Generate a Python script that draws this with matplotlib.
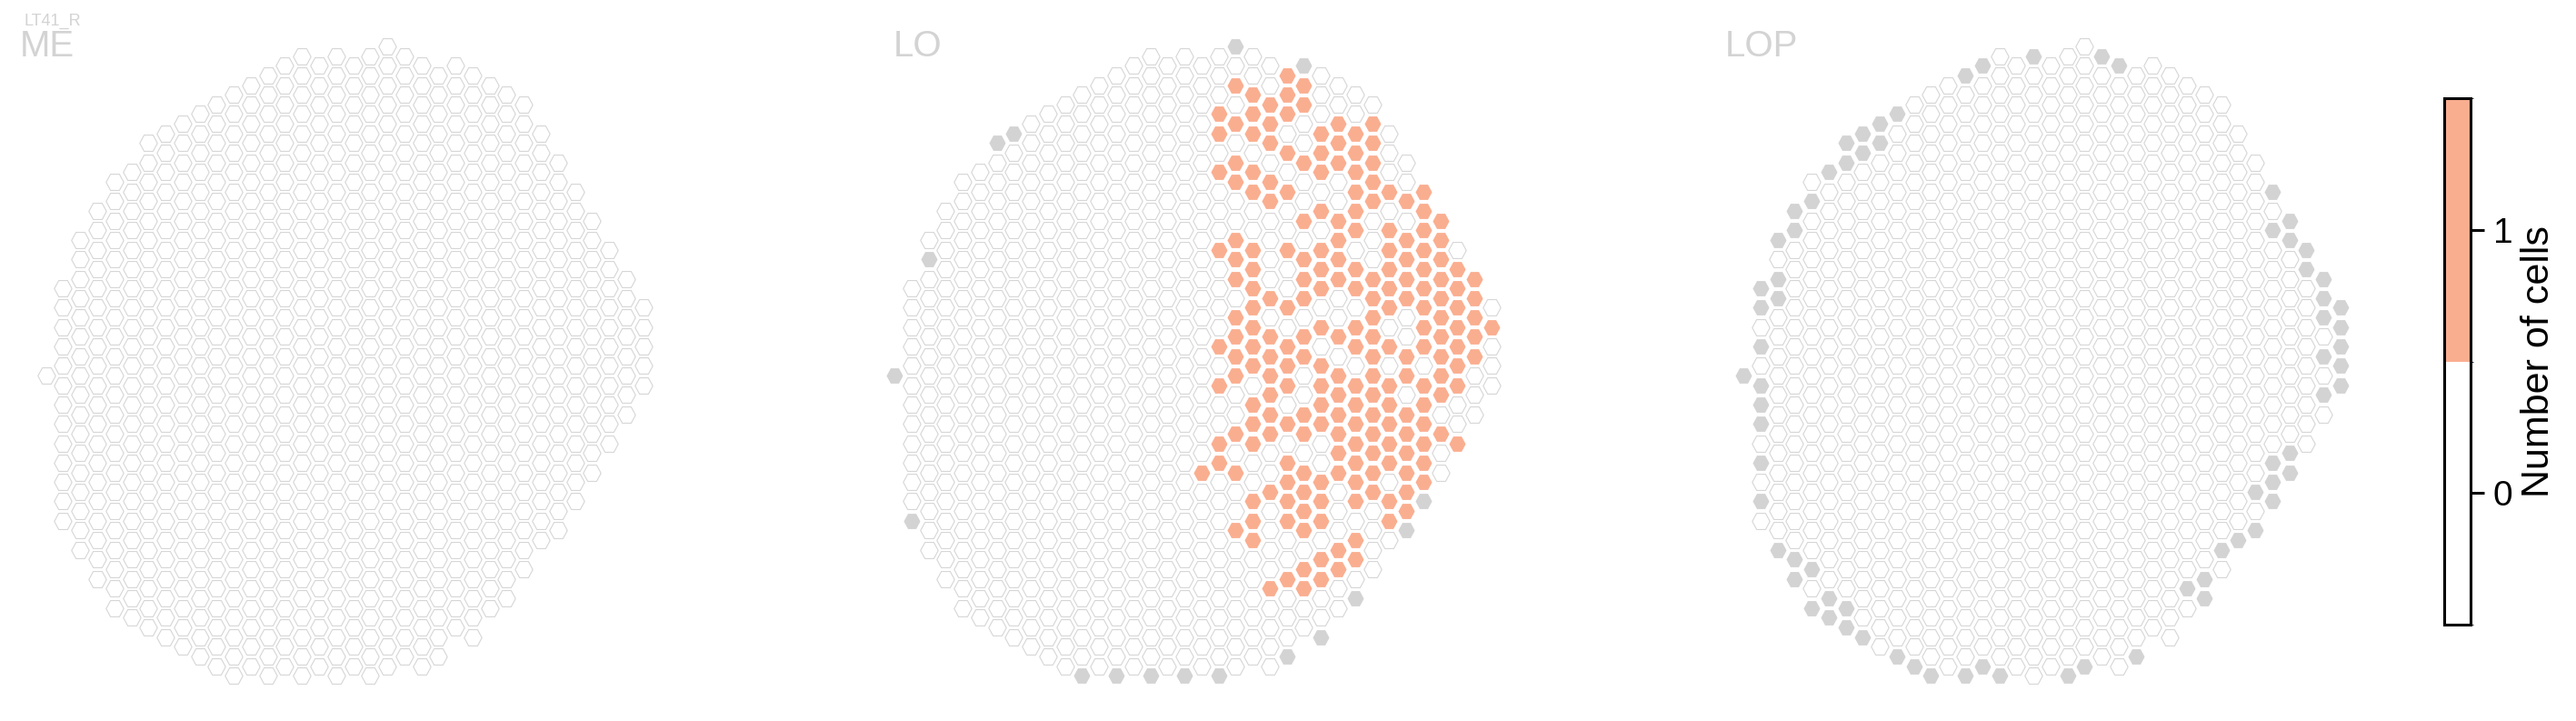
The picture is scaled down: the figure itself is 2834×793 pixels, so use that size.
import numpy as np
import matplotlib as mpl
import matplotlib.pyplot as plt
from matplotlib.colors import ListedColormap, BoundaryNorm

plt.rcParams['font.family'] = ['Liberation Sans', 'DejaVu Sans']

## column grid shared by ME, LO and LOP
# for every column (left to right): first and last half-row index (k grows downward)
col_top = [0, -9, -14, -17, -20, -21, -24, -25, -26, -27, -28, -29, -30, -31, -32, -33,
           -32, -33, -32, -33, -34, -33, -32, -31, -32, -31, -30, -29, -28, -25, -22,
           -19, -16, -13, -10, -7]
col_bottom = [0, 15, 18, 21, 24, 25, 26, 27, 28, 29, 30, 31, 30, 31, 30, 31,
              30, 31, 30, 31, 30, 29, 30, 29, 26, 27, 24, 23, 20, 17, 16,
              13, 10, 7, 4, 1]

## LO: columns with one cell, listed per half-row
lo_one_cell = {
    -31: [23], -30: [20, 24], -29: [21, 23], -28: [22, 24], -27: [19, 21, 23],
    -26: [20, 22, 26, 28], -25: [19, 21, 25, 27], -24: [22, 26, 28], -23: [23, 25, 27],
    -22: [20, 24, 26, 28], -21: [19, 21, 25, 27], -20: [20, 22, 28],
    -19: [21, 23, 27, 29, 31], -18: [22, 28, 30], -17: [25, 27, 31], -16: [24, 26, 32],
    -15: [27, 29, 31], -14: [20, 26, 30, 32], -13: [19, 21, 23, 25, 29, 31],
    -12: [20, 24, 26, 30, 32], -11: [21, 25, 27, 29, 31, 33],
    -10: [20, 24, 26, 28, 30, 32, 34], -9: [21, 25, 27, 29, 31, 33],
    -8: [22, 24, 28, 30, 32, 34], -7: [21, 23, 29, 31, 33], -6: [20, 28, 32, 34],
    -5: [21, 25, 27, 31, 33, 35], -4: [20, 22, 24, 26, 28, 32, 34],
    -3: [19, 21, 23, 27, 29, 31, 33], -2: [20, 22, 24, 28, 30, 32, 34],
    -1: [21, 23, 25, 33], 0: [20, 22, 26, 28, 30, 32],
    1: [19, 23, 25, 27, 29, 31, 33], 2: [22, 26, 28, 32], 3: [21, 25, 27, 29, 31],
    4: [22, 24, 26, 28, 30], 5: [21, 23, 25, 27, 29, 31],
    6: [20, 22, 24, 26, 28, 30, 32], 7: [19, 21, 27, 29, 31, 33], 8: [26, 28, 30],
    9: [19, 23, 27, 29, 31], 10: [18, 20, 24, 26, 28, 30], 11: [23, 25, 27, 31],
    12: [22, 24, 28, 30], 13: [21, 23, 25, 27, 29], 14: [24, 30], 15: [21, 23, 25, 29],
    16: [20, 24], 17: [21, 27], 18: [26], 19: [25, 27], 20: [24, 26], 21: [23, 25],
    22: [22, 24],
}

## columns missing in a neuropil (column, half-row)
lo_missing = [(0, 0), (1, 15), (2, -12), (6, -24), (7, -25), (20, -34), (24, -32),
              (31, 13), (30, 16), (27, 23), (25, 27), (23, 29),
              (11, 31), (13, 31), (15, 31), (17, 31), (19, 31)]
lop_missing = [(17, -33), (21, -33), (22, -32), (14, -32), (13, -31), (9, -27), (8, -26),
               (7, -25), (8, -24), (6, -24), (7, -23), (6, -22), (5, -21), (4, -18),
               (3, -17), (3, -15), (2, -14), (2, -10), (2, -8), (1, -9), (1, -7), (1, -3),
               (31, -19), (32, -16), (31, -15), (32, -14), (33, -13), (33, -11), (34, -10),
               (34, -8), (35, -7), (34, -6), (35, -5), (35, -3), (34, -2),
               (0, 0), (1, 1), (1, 3), (1, 5), (1, 9), (1, 13), (2, 18), (3, 19), (4, 20),
               (3, 21), (5, 23), (4, 24), (6, 24), (5, 25), (6, 26), (7, 27), (9, 29),
               (10, 30), (11, 31), (13, 31), (14, 30), (15, 31), (19, 31), (20, 30),
               (23, 29), (27, 21), (26, 22), (27, 23), (28, 18), (29, 17), (30, 16),
               (30, 12), (31, 13), (31, 11), (31, 9), (32, 8), (32, 10), (34, 2),
               (35, -1), (35, 1)]

panels = ['ME', 'LO', 'LOP']
panel_one = {'ME': {}, 'LO': lo_one_cell, 'LOP': {}}
panel_missing = {'ME': [], 'LO': lo_missing, 'LOP': lop_missing}

ORANGE = '#FAAE90'
GREY = '#D3D3D3'
EDGE = '#D6D6D6'
LABEL_GREY = '#D3D3D3'

W, H = 2834, 793
DX, DY = 18.77, 10.65          # px between columns / half rows
Y0 = 413                        # px of half-row 0
PANEL_X0 = [50.7, 984, 1918]    # px of column 0 in each panel
LABEL_X = [22, 983, 1898]

hexagon = [(1, 0), (0.5, 0.92), (-0.5, 0.92), (-1, 0), (-0.5, -0.92), (0.5, -0.92), (1, 0)]
HEX_S = 14.0 ** 2

fig = plt.figure(figsize=(W / 100, H / 100), dpi=100)

all_cells = [(j, k) for j in range(len(col_top)) for k in range(col_top[j], col_bottom[j] + 1, 2)]

for name, x0, lx in zip(panels, PANEL_X0, LABEL_X):
    left, right = x0 - 45, x0 + 36 * DX + 25
    ax = fig.add_axes([left / W, 0, (right - left) / W, 1])
    ax.set_xlim((left - x0) / DX, (right - x0) / DX)
    ax.set_ylim((H - Y0) / DY, -Y0 / DY)
    ax.axis('off')

    one = {(j, k) for k, js in panel_one[name].items() for j in js}
    miss = set(panel_missing[name])
    white = [c for c in all_cells if c not in one and c not in miss]
    for cells, face, edge in [(white, 'white', EDGE), (sorted(one), ORANGE, 'white'),
                              (sorted(miss), GREY, 'white')]:
        if not cells:
            continue
        cells = np.array(cells)
        ax.scatter(cells[:, 0], cells[:, 1], s=HEX_S, marker=hexagon, c=face,
                   edgecolors=edge, linewidths=0.8)

    fig.text(lx / W, 1 - 62 / H, name, fontsize=29, color=LABEL_GREY, va='baseline')

fig.text(26 / W, 1 - 28 / H, 'LT41_R', fontsize=13, color=LABEL_GREY, va='baseline')

# colorbar
cax = fig.add_axes([2689 / W, 1 - 687 / H, 29 / W, 579 / H])
cmap = ListedColormap(['white', ORANGE])
norm = BoundaryNorm([-0.5, 0.5, 1.5], cmap.N)
cb = fig.colorbar(mpl.cm.ScalarMappable(norm=norm, cmap=cmap), cax=cax, ticks=[0, 1])
cb.outline.set_linewidth(2.2)
cb.ax.tick_params(length=11, width=2.2, labelsize=28, pad=7)
cb.set_label('Number of cells', fontsize=31, labelpad=6)

fig.savefig('out.png', dpi=100, facecolor='white')
